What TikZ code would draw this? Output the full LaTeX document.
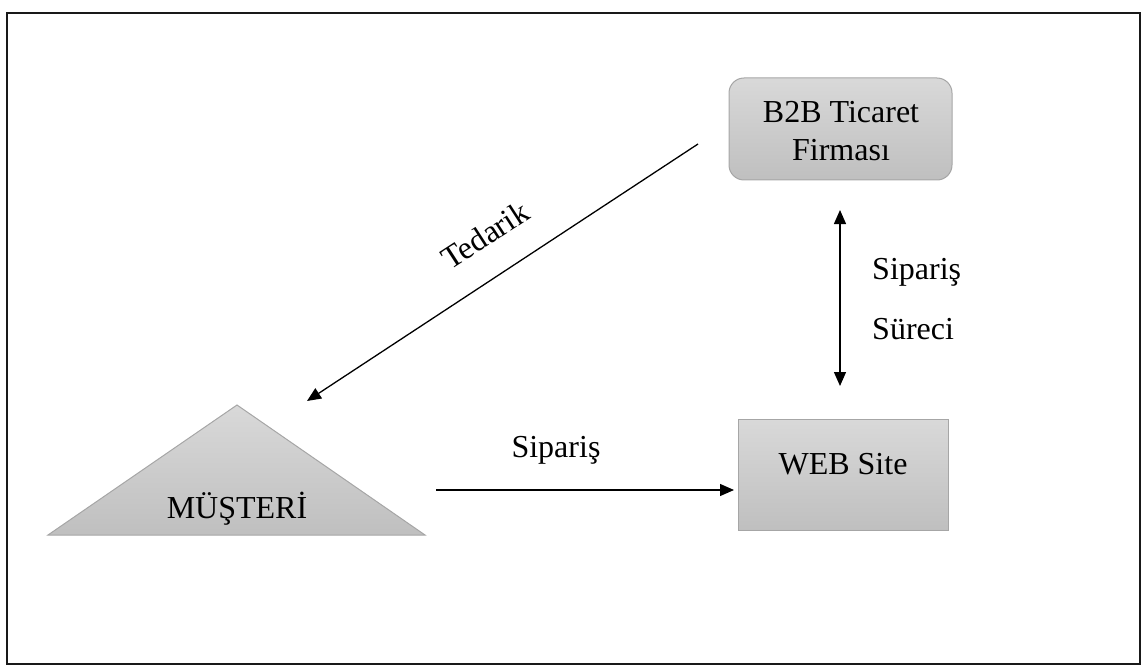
\documentclass[tikz,border=0pt]{standalone}
\usepackage{fontspec}
\setmainfont{Liberation Serif}
\usetikzlibrary{arrows.meta}
\tikzset{
  boxfill/.style={draw=black!35, line width=1pt, top color=black!15, bottom color=black!25},
  lbl/.style={font=\fontsize{32}{38}\selectfont, text=black, inner sep=0pt},
  conn/.style={line width=1.3pt, -{Triangle[length=14pt,width=12pt]}},
  conn2/.style={line width=1.3pt, {Triangle[length=14pt,width=12pt]}-{Triangle[length=14pt,width=12pt]}}
}
\begin{document}
\begin{tikzpicture}[x=1pt,y=-1pt]
\useasboundingbox (0,0) rectangle (1144,666);
% outer frame
\draw[line width=2.2pt, black!90] (7,13) rectangle (1140,664);

% supplier firm
\node[boxfill, rounded corners=15pt, minimum width=223pt, minimum height=102pt] (b2b) at (840.5,129) {};
\node[lbl, anchor=base] (b2btext) at (841,123) {B2B Ticaret};
\node[lbl, anchor=base] (b2btext2) at (841,161) {Firmas\i};

% web site
\node[boxfill, rectangle, minimum width=210pt, minimum height=111pt] (web) at (843.5,474.5) {};
\node[lbl, anchor=base] (webtext) at (843,474) {WEB Site};

% customer triangle
\draw[boxfill] (237,405) -- (425,535) -- (48,535) -- cycle;
\node[lbl, anchor=base] (musteri) at (237,518) {MÜŞTERİ};

% connector ends
\coordinate (tedA) at (698,144);
\coordinate (tedB) at (307,401);
\coordinate (sipA) at (436,490);
\coordinate (sipB) at (734,490);
\coordinate (surA) at (840,210);
\coordinate (surB) at (840,386);

\draw[conn] (tedA) -- (tedB);
\draw[conn] (sipA) -- (sipB);
\draw[conn2] (surA) -- (surB);

\node[lbl, rotate=33] (tedarik) at (485,235) {Tedarik};
\node[lbl, anchor=base] (siparis) at (556,457) {Sipariş};
\node[lbl, anchor=base west] (siparis2) at (872,279) {Sipariş};
\node[lbl, anchor=base west] (sureci) at (872,339) {Süreci};
\end{tikzpicture}
\end{document}
